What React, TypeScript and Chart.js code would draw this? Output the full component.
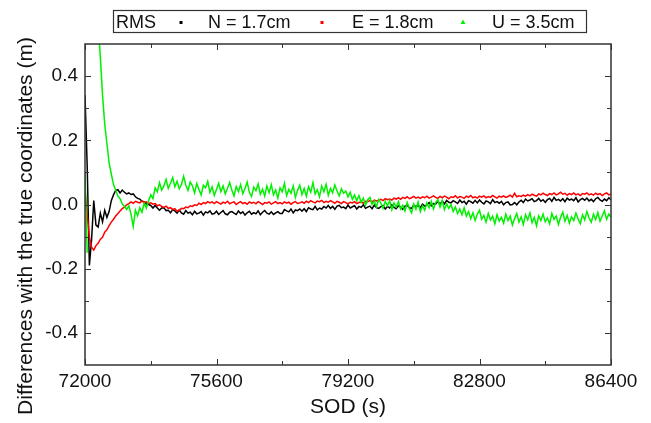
import React, { useEffect, useRef } from "react";
import { Chart, registerables } from "chart.js";

Chart.register(...registerables);

// Epoch grid (seconds of day) for the differences below: one sample per minute.
const SOD_START = 72000;
const SOD_STEP = 60;

const X_TICKS = [72000, 75600, 79200, 82800, 86400];
const X_MINOR = [73800, 77400, 81000, 84600];
const Y_TICKS = [-0.4, -0.2, 0, 0.2, 0.4];
const Y_MINOR = [-0.3, -0.1, 0.1, 0.3];

const SERIES_LABELS = ["N = 1.7cm", "E = 1.8cm", "U = 3.5cm"];
const SERIES_COLORS = ["#000000", "#ff0000", "#00f000"];

// North differences (m)
const N_DIFF = [
  0.34, 0.12, -0.19, -0.11, 0.012, -0.064, -0.07, -0.027, -0.054, -0.018,
  -0.04, -0.022, 0.012, 0.03, 0.044, 0.046, 0.036, 0.045, 0.038, 0.033,
  0.036, 0.031, 0.033, 0.024, 0.019, 0.017, 0.01, 0.009, 0.001, 0.0,
  -0.003, -0.011, -0.003, -0.011, -0.018, -0.011, -0.01, -0.019, -0.018, -0.026,
  -0.016, -0.02, -0.027, -0.017, -0.026, -0.03, -0.019, -0.027, -0.024, -0.032,
  -0.021, -0.029, -0.027, -0.022, -0.033, -0.023, -0.026, -0.02, -0.03, -0.028,
  -0.021, -0.031, -0.025, -0.019, -0.029, -0.032, -0.024, -0.022, -0.027, -0.031,
  -0.02, -0.028, -0.023, -0.033, -0.026, -0.021, -0.03, -0.025, -0.029, -0.02,
  -0.032, -0.024, -0.019, -0.027, -0.03, -0.023, -0.031, -0.026, -0.022, -0.028,
  -0.028, -0.016, -0.02, -0.023, -0.014, -0.026, -0.017, -0.019, -0.014, -0.021,
  -0.013, -0.022, -0.01, -0.014, -0.016, -0.006, -0.017, -0.011, -0.014, -0.006,
  -0.011, -0.003, -0.012, -0.006, -0.015, -0.005, -0.003, -0.01, -0.008, -0.013,
  -0.002, -0.011, -0.007, -0.004, -0.014, -0.006, -0.009, -0.001, -0.012, -0.008,
  -0.005, -0.013, -0.002, -0.01, -0.012, -0.007, -0.003, -0.014, -0.006, -0.011,
  -0.001, -0.009, -0.013, -0.004, -0.008, -0.015, -0.005, -0.002, -0.01, -0.012,
  -0.002, -0.007, -0.003, -0.01, 0.001, -0.005, -0.001, 0.006, -0.004, 0.003,
  0.001, 0.01, 0.0, 0.011, 0.002, 0.013, 0.007, 0.005, 0.012, 0.008,
  0.003, 0.014, 0.006, 0.01, 0.001, 0.012, 0.009, 0.004, 0.013, 0.005,
  0.014, 0.007, 0.002, 0.011, 0.008, 0.003, 0.015, 0.006, 0.009, 0.004,
  0.01, -0.001, 0.006, 0.008, -0.001, 0.0, 0.006, -0.001, 0.008, 0.013,
  0.006, 0.017, 0.011, 0.014, 0.018, 0.009, 0.012, 0.019, 0.01, 0.015,
  0.007, 0.015, 0.019, 0.01, 0.022, 0.013, 0.016, 0.011, 0.018, 0.009,
  0.02, 0.014, 0.017, 0.012, 0.021, 0.008, 0.015, 0.019, 0.013, 0.02,
  0.011, 0.016, 0.009, 0.018, 0.022, 0.014, 0.01, 0.017, 0.012, 0.021,
  0.015,
];

// East differences (m)
const E_DIFF = [
  0.045, -0.03, -0.1, -0.133, -0.142, -0.128, -0.121, -0.108, -0.102, -0.086,
  -0.079, -0.066, -0.055, -0.046, -0.036, -0.028, -0.02, -0.013, -0.008, -0.001,
  0.003, 0.008, 0.004, 0.01, 0.007, 0.005, 0.011, 0.006, 0.008, 0.003,
  0.005, 0.001, 0.003, -0.004, -0.001, -0.006, -0.009, -0.005, -0.012, -0.01,
  -0.016, -0.013, -0.021, -0.018, -0.012, -0.013, -0.008, -0.01, -0.004, -0.006,
  -0.001, -0.003, 0.004, 0.0, 0.006, 0.003, 0.009, 0.005, 0.008, 0.003,
  0.009, 0.005, 0.001, 0.007, 0.004, 0.01, 0.002, 0.006, 0.008, 0.0,
  0.005, 0.009, 0.003, 0.006, 0.001, 0.008, 0.004, 0.007, 0.002, 0.009,
  0.005, 0.0, 0.006, 0.004, 0.008, 0.001, 0.005, 0.009, 0.003, 0.006,
  0.002, 0.008, 0.004, 0.007, 0.001, 0.006, 0.009, 0.003, 0.005, 0.008,
  0.004, 0.01, 0.006, 0.012, 0.008, 0.005, 0.011, 0.009, 0.013, 0.006,
  0.01, 0.007, 0.012, 0.008, 0.004, 0.01, 0.007, 0.003, 0.009, 0.006,
  0.002, 0.007, 0.005, 0.009, 0.003, 0.006, 0.008, 0.004, 0.01, 0.009,
  0.012, 0.008, 0.014, 0.011, 0.013, 0.016, 0.012, 0.018, 0.015, 0.017,
  0.014, 0.02, 0.017, 0.021, 0.016, 0.022, 0.019, 0.024, 0.018, 0.021,
  0.025, 0.02, 0.023, 0.019, 0.024, 0.021, 0.026, 0.02, 0.023, 0.027,
  0.022, 0.019, 0.025, 0.021, 0.026, 0.023, 0.018, 0.024, 0.022, 0.027,
  0.02, 0.025, 0.023, 0.019, 0.026, 0.022, 0.028, 0.021, 0.024, 0.02,
  0.026, 0.023, 0.027, 0.021, 0.025, 0.022, 0.028, 0.024, 0.02, 0.026,
  0.023, 0.027, 0.022, 0.025, 0.029, 0.023, 0.035, 0.024, 0.027, 0.025,
  0.029, 0.026, 0.031, 0.027, 0.032, 0.029, 0.026, 0.033, 0.03, 0.035,
  0.031, 0.028, 0.034, 0.031, 0.036, 0.03, 0.033, 0.038, 0.032, 0.035,
  0.029, 0.034, 0.031, 0.036, 0.03, 0.033, 0.028, 0.034, 0.032, 0.036,
  0.03, 0.033, 0.029, 0.035, 0.031, 0.034, 0.028, 0.033, 0.036, 0.03,
  0.033,
];

// Up differences (m)
const U_DIFF = [
  0.1, -0.15, 0.95, 0.82, 0.7, 0.61, 0.56, 0.46, 0.34, 0.25,
  0.19, 0.13, 0.095, 0.062, 0.045, 0.026, 0.018, 0.002, -0.006, -0.015,
  -0.004, -0.03, -0.068, -0.018, -0.035, -0.01, -0.024, 0.004, -0.012, 0.012,
  0.03, 0.018, 0.052, 0.04, 0.068, 0.045, 0.058, 0.078, 0.05, 0.066,
  0.084, 0.055, 0.072, 0.049, 0.062, 0.088, 0.06, 0.044, 0.07, 0.058,
  0.036, 0.065, 0.047, 0.03, 0.06, 0.052, 0.072, 0.038, 0.055, 0.028,
  0.047, 0.066, 0.04, 0.058, 0.033, 0.05, 0.069, 0.045, 0.027, 0.056,
  0.04, 0.062, 0.034, 0.05, 0.07, 0.038, 0.025, 0.054, 0.043, 0.064,
  0.032, 0.048, 0.026, 0.058, 0.037, 0.062, 0.03, 0.045, 0.02, 0.052,
  0.04, 0.066, 0.028, 0.047, 0.035, 0.058, 0.022, 0.044, 0.06, 0.031,
  0.05, 0.026, 0.055, 0.038, 0.068, 0.033, 0.046, 0.024, 0.058, 0.04,
  0.063, 0.029, 0.05, 0.036, 0.061, 0.042, 0.027, 0.049, 0.035, 0.042,
  0.024, 0.038, 0.016, 0.03, 0.012, 0.028, 0.007, 0.02, -0.002, 0.015,
  0.022, 0.0, 0.011, -0.008, 0.016, 0.004, -0.012, 0.01, -0.004, 0.012,
  -0.016, 0.005, -0.008, 0.009, -0.014, -0.002, -0.02, 0.006, -0.012, -0.026,
  0.002, -0.015, 0.008, -0.022, -0.004, -0.018, 0.005, -0.01, 0.01, -0.014,
  0.006, 0.015, -0.008, 0.012, -0.016, 0.002, -0.012, 0.0, -0.022, -0.008,
  -0.028, -0.014, -0.032, -0.01, -0.036, -0.022, -0.044, -0.026, -0.05, -0.03,
  -0.018, -0.046, -0.034, -0.055, -0.028, -0.048, -0.036, -0.06, -0.032, -0.052,
  -0.04, -0.058, -0.03, -0.05, -0.036, -0.064, -0.044, -0.028, -0.055, -0.038,
  -0.062, -0.032, -0.048, -0.026, -0.057, -0.04, -0.066, -0.035, -0.05, -0.03,
  -0.054, -0.042, -0.06, -0.028, -0.046, -0.036, -0.062, -0.04, -0.024, -0.052,
  -0.034, -0.058, -0.038, -0.05, -0.027, -0.045, -0.06, -0.032, -0.048, -0.022,
  -0.042, -0.055, -0.03, -0.047, -0.025, -0.052, -0.036, -0.02, -0.046, -0.03,
  -0.04,
];

const FONT = '"Liberation Sans", Arial, sans-serif';
const TEXT_COLOR = "#111111";
const AXIS_COLOR = "#333333";

const toPoints = (values: number[]) =>
  values.map((v, i) => ({ x: SOD_START + i * SOD_STEP, y: v }));

// Samples are plotted as a trace; a jump larger than the full axis range is
// left unconnected so the trace does not draw a spurious vertical stroke.
const hideJump = (ctx: any) =>
  Math.abs(ctx.p1.parsed.y - ctx.p0.parsed.y) > 0.6 ? "rgba(0,0,0,0)" : undefined;

// Draws the boxed frame with inward ticks on all four sides, the axis titles
// and the RMS legend box across the top.
const framePlugin = {
  id: "frameAndLegend",
  afterDraw(chart: any) {
    const { ctx, chartArea: a } = chart;
    const xs = chart.scales.x;
    const ys = chart.scales.y;
    ctx.save();

    ctx.strokeStyle = AXIS_COLOR;
    ctx.lineWidth = 1.5;
    ctx.strokeRect(a.left, a.top, a.right - a.left, a.bottom - a.top);

    ctx.lineWidth = 1;
    ctx.beginPath();
    const xTick = (v: number, len: number) => {
      const px = Math.round(xs.getPixelForValue(v)) + 0.5;
      ctx.moveTo(px, a.bottom);
      ctx.lineTo(px, a.bottom - len);
      ctx.moveTo(px, a.top);
      ctx.lineTo(px, a.top + len);
    };
    const yTick = (v: number, len: number) => {
      const py = Math.round(ys.getPixelForValue(v)) + 0.5;
      ctx.moveTo(a.left, py);
      ctx.lineTo(a.left + len, py);
      ctx.moveTo(a.right, py);
      ctx.lineTo(a.right - len, py);
    };
    X_TICKS.forEach((v) => xTick(v, 6));
    X_MINOR.forEach((v) => xTick(v, 4));
    Y_TICKS.forEach((v) => yTick(v, 6));
    Y_MINOR.forEach((v) => yTick(v, 4));
    ctx.stroke();

    // axis titles
    ctx.fillStyle = TEXT_COLOR;
    ctx.font = `21px ${FONT}`;
    ctx.textAlign = "center";
    ctx.textBaseline = "alphabetic";
    ctx.fillText("SOD (s)", (a.left + a.right) / 2, 413);
    ctx.save();
    ctx.translate(32, 226);
    ctx.rotate(-Math.PI / 2);
    ctx.fillText("Differences with the true coordinates (m)", 0, 0);
    ctx.restore();

    // legend box
    ctx.strokeStyle = AXIS_COLOR;
    ctx.lineWidth = 1.2;
    ctx.strokeRect(113.5, 10.5, 473, 22);
    ctx.font = `18px ${FONT}`;
    ctx.textAlign = "left";
    ctx.fillText("RMS", 116, 28);
    const entries = [
      { mark: 181, text: 208 },
      { mark: 322, text: 352 },
      { mark: 463, text: 492 },
    ];
    chart.data.datasets.forEach((ds: any, i: number) => {
      const e = entries[i];
      ctx.fillStyle = ds.borderColor;
      if (i === 2) {
        ctx.beginPath();
        ctx.moveTo(e.mark, 19.5);
        ctx.lineTo(e.mark - 2.5, 24);
        ctx.lineTo(e.mark + 2.5, 24);
        ctx.closePath();
        ctx.fill();
      } else {
        ctx.fillRect(e.mark - 1.5, 21, 3, 3);
      }
      ctx.fillStyle = TEXT_COLOR;
      ctx.fillText(ds.label, e.text, 28);
    });

    ctx.restore();
  },
};

export default function App() {
  const canvasRef = useRef<HTMLCanvasElement | null>(null);

  useEffect(() => {
    if (!canvasRef.current) return;
    const series = [N_DIFF, E_DIFF, U_DIFF];
    const chart = new Chart(canvasRef.current, {
      type: "line",
      data: {
        datasets: series.map((vals, i) => ({
          label: SERIES_LABELS[i],
          data: toPoints(vals),
          borderColor: SERIES_COLORS[i],
          backgroundColor: SERIES_COLORS[i],
          borderWidth: 1.5,
          pointRadius: 0,
          tension: 0,
          order: 2 - i,
          segment: { borderColor: hideJump },
        })),
      },
      options: {
        animation: false,
        responsive: true,
        maintainAspectRatio: false,
        layout: { padding: { top: 44, right: 40, left: 0, bottom: 0 } },
        plugins: { legend: { display: false }, tooltip: { enabled: false } },
        scales: {
          x: {
            type: "linear",
            min: 72000,
            max: 86400,
            grid: { display: false, drawTicks: false },
            border: { display: false },
            afterBuildTicks: (s: any) => {
              s.ticks = X_TICKS.map((v) => ({ value: v }));
            },
            afterFit: (s: any) => {
              s.height = 58;
            },
            ticks: {
              autoSkip: false,
              maxRotation: 0,
              padding: 5,
              color: TEXT_COLOR,
              font: { family: FONT, size: 19 },
              callback: (v: any) => String(v),
            },
          },
          y: {
            type: "linear",
            min: -0.5,
            max: 0.5,
            grid: { display: false, drawTicks: false },
            border: { display: false },
            afterBuildTicks: (s: any) => {
              s.ticks = Y_TICKS.map((v) => ({ value: v }));
            },
            afterFit: (s: any) => {
              s.width = 85;
            },
            ticks: {
              padding: 7,
              color: TEXT_COLOR,
              font: { family: FONT, size: 19 },
              callback: (v: any) => Number(v).toFixed(1),
            },
          },
        },
      },
      plugins: [framePlugin],
    });
    return () => chart.destroy();
  }, []);

  return (
    <div
      style={{
        position: "fixed",
        left: 0,
        top: 0,
        width: 651,
        height: 423,
        background: "#ffffff",
      }}
    >
      <canvas ref={canvasRef} />
    </div>
  );
}
